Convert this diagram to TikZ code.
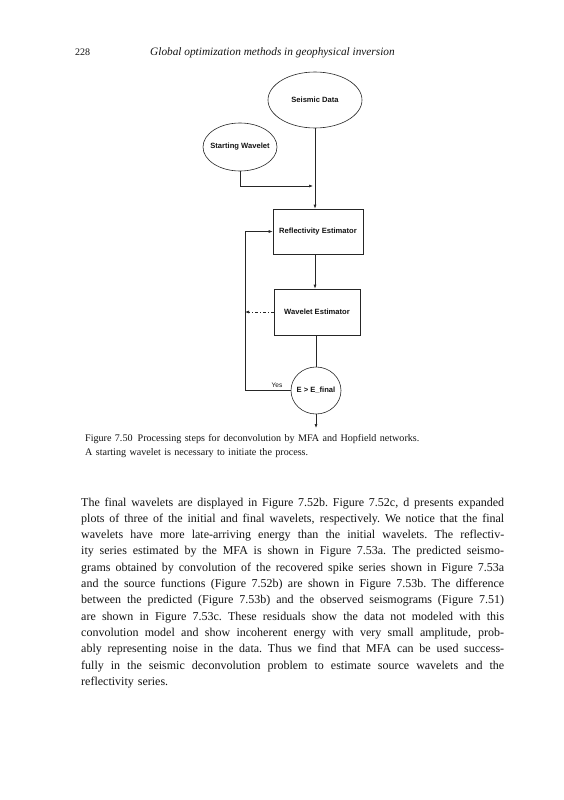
\documentclass[tikz,border=0pt]{standalone}
\usepackage{fontspec}
\setmainfont{Liberation Serif}
\newfontfamily\diagfont{Liberation Sans}
\usetikzlibrary{shapes.geometric, arrows.meta, positioning, calc}
\definecolor{inkline}{HTML}{262626}
\definecolor{inktext}{HTML}{141414}
\newcommand{\bodyline}[1]{\makebox[423pt][s]{\spaceskip=\fontdimen2\font plus 1fil\xspaceskip=\spaceskip\relax #1}}

\begin{document}
\begin{tikzpicture}[x=1pt,y=-1pt,font=\diagfont\bfseries\fontsize{7.6}{9}\selectfont,text=inktext]
        \useasboundingbox[fill=white] (0,0) rectangle (563,800);
        % running head
        \node[anchor=base west,inner sep=0,font=\fontsize{10}{12}\selectfont] (pgno) at (75,56) {228};
        \node[anchor=base west,inner sep=0,font=\itshape\fontsize{11.3}{13}\selectfont] (runhead) at (150,56) {Global optimization methods in geophysical inversion};
        % flow chart
        \node[ellipse,draw=inkline,line width=0.6pt,minimum width=94pt,minimum height=56pt,inner sep=0] (sdata) at (315,100) {Seismic Data};
        \node[ellipse,draw=inkline,line width=0.6pt,minimum width=74pt,minimum height=48pt,inner sep=0,inner xsep=-6pt] (swave) at (240,147) {Starting Wavelet};
        \node[draw=inkline,line width=0.6pt,minimum width=90pt,minimum height=45pt] (refl) at (318,231.5) {Reflectivity Estimator};
        \node[draw=inkline,line width=0.6pt,minimum width=86pt,minimum height=46pt] (wave) at (317,312) {Wavelet Estimator};
        \node[ellipse,draw=inkline,line width=0.6pt,minimum width=50pt,minimum height=47pt,inner sep=0,inner xsep=-4pt] (cond) at (316,390.5) {E > E\_final};
        \node[font=\diagfont\fontsize{6.6}{8}\selectfont,inner sep=0] (yes) at (277,385) {Yes};
        \coordinate (merge) at (313,186);
        \coordinate (loopx) at (245,0);
        \coordinate (out) at (316,428);
        \draw[-{Latex[length=4pt,width=3pt]},inkline,line width=0.6pt] (sdata.south) -- (sdata.south |- refl.north);
        \draw[-{Latex[length=4pt,width=3pt]},inkline,line width=0.6pt] (swave.south) |- (merge);
        \draw[-{Latex[length=4pt,width=3pt]},inkline,line width=0.6pt] (refl.south -| sdata.south) -- (wave.north -| sdata.south);
        \draw[-{Latex[length=4pt,width=3pt]},inkline,line width=0.6pt,dash pattern=on 3pt off 2pt on 1pt off 2pt] (wave.west) -- (wave.west -| loopx);
        \draw[inkline,line width=0.6pt] (wave.south -| cond.north) -- (cond.north);
        \draw[-{Latex[length=4pt,width=3pt]},inkline,line width=0.6pt] (cond.west) -- (cond.west -| loopx) |- (refl.west);
        \draw[-{Latex[length=4pt,width=3pt]},inkline,line width=0.6pt] (cond.south) -- (out);
        % caption
        \node[anchor=base west,inner sep=0,text width=400pt,align=left,font=\fontsize{10.1}{14}\selectfont] (caption) at (85,441) {\noindent Figure 7.50\enspace Processing steps for deconvolution by MFA and Hopfield networks.\\A starting wavelet is necessary to initiate the process.};
        % body text
        \node[anchor=base west,inner sep=0,text width=423pt,align=left,font=\fontsize{12}{16.3}\selectfont] (body) at (81,506) {\noindent
          \bodyline{The final wavelets are displayed in Figure 7.52b. Figure 7.52c, d presents expanded}\\
          \bodyline{plots of three of the initial and final wavelets, respectively. We notice that the final}\\
          \bodyline{wavelets have more late-arriving energy than the initial wavelets. The reflectiv-}\\
          \bodyline{ity series estimated by the MFA is shown in Figure 7.53a. The predicted seismo-}\\
          \bodyline{grams obtained by convolution of the recovered spike series shown in Figure 7.53a}\\
          \bodyline{and the source functions (Figure 7.52b) are shown in Figure 7.53b. The difference}\\
          \bodyline{between the predicted (Figure 7.53b) and the observed seismograms (Figure 7.51)}\\
          \bodyline{are shown in Figure 7.53c. These residuals show the data not modeled with this}\\
          \bodyline{convolution model and show incoherent energy with very small amplitude, prob-}\\
          \bodyline{ably representing noise in the data. Thus we find that MFA can be used success-}\\
          \bodyline{fully in the seismic deconvolution problem to estimate source wavelets and the}\\
          reflectivity series.};
      \end{tikzpicture}
\end{document}
